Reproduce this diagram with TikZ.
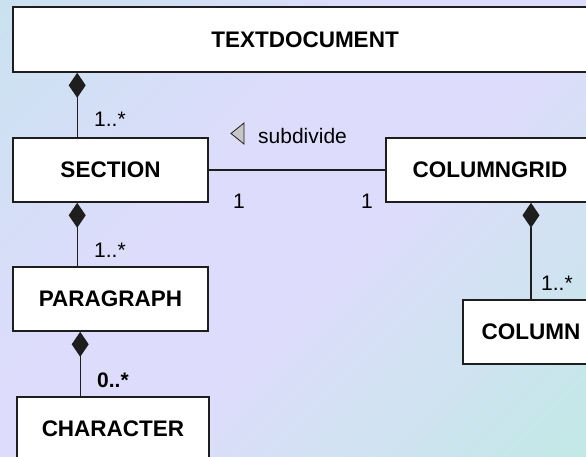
\documentclass[tikz,border=0pt]{standalone}
\usepackage{fontspec}
\setmainfont{Liberation Sans}
\usepackage{tikz}
\usetikzlibrary{positioning, calc, arrows.meta, shapes}
\definecolor{bgcyan}{HTML}{C6E3EE}
\definecolor{bglavender}{HTML}{DEDCFC}
\definecolor{bgaqua}{HTML}{BFEAE4}
\definecolor{edgegray}{HTML}{1E1E1E}
\pgfdeclareverticalshading{pageshade}{100bp}{color(0bp)=(bgaqua); color(12bp)=(bgaqua); color(45bp)=(bglavender); color(58bp)=(bglavender); color(90bp)=(bgcyan); color(100bp)=(bgcyan)}

\begin{document}
\begin{tikzpicture}[x=1pt, y=-1pt,
		classbox/.style={draw=edgegray, line width=1.6pt, fill=white, inner sep=0pt, minimum height=64pt, font=\fontsize{22.5}{27}\selectfont\bfseries},
		comp/.style={draw=edgegray, line width=1.3pt, {Diamond[length=25pt, width=17pt]}-},
		assoc/.style={draw=edgegray, line width=1.3pt},
		mult/.style={anchor=base west, inner sep=0pt, font=\fontsize{21}{25}\selectfont},
		multbold/.style={mult, font=\fontsize{21}{25}\selectfont\bfseries}]
			\useasboundingbox (0,0) rectangle (586,457);
			\shade [shading=pageshade, shading angle=45] (0,0) rectangle (586,457);
			\clip (0,0) rectangle (586,457);
			
			\node [classbox, minimum width=584pt, minimum height=65pt] (textdoc) at (305,39.5) {TEXTDOCUMENT};
			\node [classbox, minimum width=195pt] (section) at (110.5,170) {SECTION};
			\node [classbox, minimum width=208pt] (columngrid) at (490,170) {COLUMNGRID};
			\node [classbox, minimum width=195pt] (paragraph) at (110.5,299) {PARAGRAPH};
			\node [classbox, minimum width=192pt] (character) at (113,429) {CHARACTER};
			\node [classbox, minimum width=136pt] (column) at (531,332) {COLUMN};
			
			\coordinate (sectop) at ([xshift=65pt]section.north west);
			\coordinate (paratop) at ([xshift=65pt]paragraph.north west);
			\coordinate (chartop) at ([xshift=64pt]character.north west);
			\draw [comp] (textdoc.south -| sectop) -- (sectop);
			\draw [comp] (section.south -| paratop) -- (paratop);
			\draw [comp] (paragraph.south -| chartop) -- (chartop);
			\draw [comp] (columngrid.south -| column.north) -- (column.north);
			\draw [assoc] (section.east) -- (columngrid.west);
			
			\node [mult] (secmult) at (94,127) {1..*};
			\node [mult] (paramult) at (94,257) {1..*};
			\node [multbold] (charmult) at (97,387) {0..*};
			\node [mult] (colmult) at (541,290) {1..*};
			\node [mult, anchor=base] (secend) at (239,208) {1};
			\node [mult, anchor=base] (gridend) at (367,208) {1};
			\node [mult] (subdiv) at (258,144) {subdivide};
			\draw [fill=gray!45, draw=edgegray, line width=0.8pt] (231,133.5) -- (244,123) -- (244,144) -- cycle;
			\end{tikzpicture}
\end{document}
